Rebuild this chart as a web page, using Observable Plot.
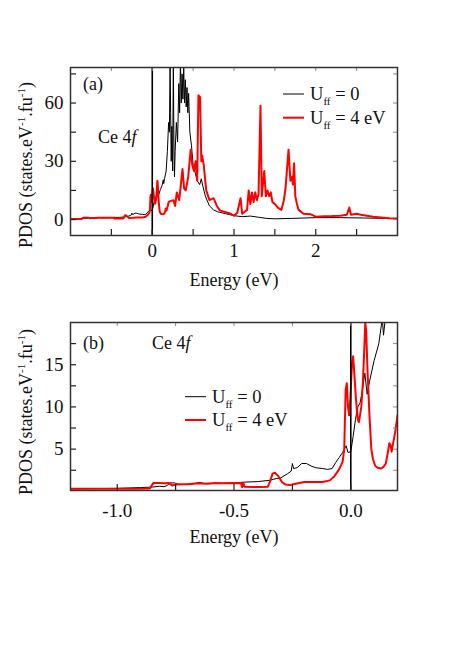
<!DOCTYPE html>
<html><head><meta charset="utf-8">
<script src="https://cdn.jsdelivr.net/npm/d3@7"></script>
<script src="https://cdn.jsdelivr.net/npm/@observablehq/plot@0.6"></script>
<style>
body{margin:0;background:#fff}
#c{width:467px;height:672px;background:#fff}
svg{display:block}
svg text{font-family:'Liberation Serif','Times New Roman',serif}
</style>
</head><body><div id="c"></div>
<script>
// U_ff = 0 (black)
const e0 = [-1.2,-1.0,-0.9,-0.85,-0.82,-0.8,-0.785,-0.775,-0.755,-0.74,-0.72,-0.68,-0.65,-0.62,-0.55,-0.5,-0.45,-0.4,-0.35,-0.32,-0.3,-0.27,-0.255,-0.25,-0.245,-0.23,-0.21,-0.19,-0.17,-0.15,-0.12,-0.1,-0.08,-0.065,-0.05,-0.035,-0.02,-0.012,0,0.01,0.02,0.03,0.04,0.05,0.06,0.07,0.08,0.1,0.12,0.135,0.14,0.15,0.17,0.185,0.2,0.21,0.218,0.225,0.232,0.24,0.25,0.258,0.265,0.272,0.28,0.295,0.31,0.325,0.335,0.345,0.355,0.365,0.375,0.385,0.395,0.405,0.415,0.425,0.435,0.445,0.46,0.48,0.5,0.52,0.55,0.58,0.6,0.62,0.65,0.7,0.75,0.8,0.9,1.0,1.1,1.2,1.3,1.4,1.5,1.7,2.0,2.3,2.6,3.0];
const p0 = [0.3,0.35,0.45,0.5,0.6,0.55,0.7,1.0,1.0,0.85,0.8,0.85,1.05,0.9,0.95,1.0,1.1,1.15,1.3,1.5,1.6,2.1,2.4,3.3,2.7,2.8,3.3,3.3,3.0,2.8,2.7,2.6,2.7,3.4,4.0,4.6,5.4,4.6,4.7,6.5,8.5,10,10.5,12,14,11.5,13,15.5,17.5,20.5,18.5,21,25,35,50,45,82,55,30,48,25,82,40,22,35,50,40,70,55,82,60,75,62,78,60,72,58,68,55,65,45,38,28,25,20,18,21,17,12,7,5,4,3,2,1.5,1.8,1.2,0.6,0.4,0.6,1.0,1.0,0.8,0.5];
// U_ff = 4 eV (red)
const e4 = [-1.2,-1.0,-0.9,-0.86,-0.845,-0.82,-0.8,-0.78,-0.765,-0.75,-0.72,-0.7,-0.65,-0.62,-0.58,-0.55,-0.5,-0.47,-0.465,-0.46,-0.455,-0.42,-0.38,-0.355,-0.345,-0.335,-0.325,-0.31,-0.295,-0.28,-0.26,-0.22,-0.2,-0.15,-0.12,-0.09,-0.07,-0.05,-0.035,-0.028,-0.022,-0.017,-0.012,-0.007,-0.002,0.005,0.01,0.015,0.022,0.03,0.035,0.045,0.052,0.058,0.062,0.066,0.072,0.08,0.088,0.095,0.105,0.115,0.13,0.14,0.15,0.158,0.165,0.17,0.175,0.18,0.19,0.2,0.22,0.26,0.28,0.3,0.33,0.37,0.39,0.41,0.44,0.47,0.49,0.51,0.53,0.55,0.565,0.585,0.6,0.61,0.63,0.66,0.7,0.75,0.79,0.83,0.88,0.92,0.96,1.0,1.04,1.08,1.1,1.13,1.16,1.18,1.2,1.22,1.24,1.26,1.28,1.3,1.324,1.34,1.37,1.39,1.41,1.43,1.45,1.47,1.5,1.54,1.58,1.61,1.63,1.667,1.69,1.71,1.72,1.735,1.75,1.77,1.79,1.85,1.94,2.0,2.1,2.2,2.3,2.38,2.41,2.43,2.5,2.55,2.7,2.9,3.0];
const p4 = [0.3,0.3,0.3,0.35,1.0,1.0,0.95,1.0,0.7,0.8,0.85,0.85,0.95,0.9,1.0,0.95,1.0,0.95,0.5,1.0,0.55,0.5,0.5,0.55,1.2,2.1,2.2,1.8,1.1,0.8,0.75,1.0,1.1,1.1,1.1,1.3,1.8,2.6,3.5,5.0,12,12.8,10,9,11,15,16,14,11,8.5,8.2,10,13,17,20,19,14,9,5,3.8,3.0,2.8,2.7,2.9,3.3,4.5,5.7,5.5,4.7,5.5,7,9,9.5,10,7,14,10,26,16,15,22,36,28,25,30,20,64,63,30,33,28,15,10,11,7,4.6,4,3.5,3,2,3.5,11,3,4,5,15,8,14,9,14,10,13,58.6,12,25,12,15,12,14,9,8,6,5,10,16,36,20,22,18,29,12,8,5,3,2.7,1.5,1.7,1.8,2.0,2.5,6.2,2.5,3,2.5,1.5,0.7,0.5];

const xTicksA = [-0.5,0,0.5,1,1.5,2,2.5];
const xLabelsA = [0,1,2];
const yTicksA = [0,15,30,45,60,75];
const yLabelsA = [0,30,60];
const xTicksB = [-1.0,-0.75,-0.5,-0.25,0];
const xLabelsB = [-1.0,-0.5,0.0];
const yTicksB = [2.5,5,7.5,10,12.5,15,17.5];
const yLabelsB = [5,10,15];

const black = e0.map((e,i)=>({e, p:p0[i]}));
const red = e4.map((e,i)=>({e, p:p4[i]}));

const FONT = "Liberation Serif";
const W = 467, ML = 70, MR = 70;

function panel({height, mt, mb, xdom, ydom, xt, xl, yt, yl, xfmt, xpad, labelDy}) {
  const pw = W - ML - MR, ph = height - mt - mb;
  return Plot.plot({
    width: W, height, marginLeft: ML, marginRight: MR, marginTop: mt, marginBottom: mb,
    style: {fontFamily: FONT, fontSize: "18px", color: "#111", background: "white", overflow: "visible"},
    x: {domain: xdom}, y: {domain: ydom},
    marks: [
      Plot.line(black, {x: "e", y: "p", stroke: "#000", strokeWidth: 1, clip: true}),
      Plot.line(red, {x: "e", y: "p", stroke: "#ff0000", strokeWidth: 2, clip: true}),
      Plot.ruleX([0], {stroke: "#000", strokeWidth: 1.6}),
      Plot.ruleX(xt, {stroke: "#222", strokeWidth: 1.2, insetTop: ph - 6}),
      Plot.ruleX(xt, {stroke: "#888", strokeWidth: 1, insetBottom: ph - 4}),
      Plot.ruleY(yt, {stroke: "#222", strokeWidth: 1.2, insetRight: pw - 6}),
      Plot.ruleY(yt, {stroke: "#888", strokeWidth: 1, insetLeft: pw - 4}),
      Plot.axisX(xl, {tickSize: 0, tickPadding: xpad, fontSize: 19, fontFamily: FONT, fill: "#111", tickFormat: xfmt, label: null}),
      Plot.axisY(yl, {tickSize: 0, tickPadding: 7, fontSize: 19, fontFamily: FONT, fill: "#111", label: null}),
      Plot.text(["Energy (eV)"], {frameAnchor: "bottom", dy: labelDy, fontSize: 18, fontFamily: FONT, fill: "#111"}),
      Plot.frame({stroke: "#333", strokeWidth: 1.5})
    ]
  });
}

const root = d3.select("#c");

const A = panel({height: 300, mt: 67, mb: 65, xdom: [-1, 3], ydom: [-8.2, 78.3],
  xt: xTicksA, xl: xLabelsA, yt: yTicksA, yl: yLabelsA, xfmt: d => String(d), xpad: 8, labelDy: 50});
const B = panel({height: 372, mt: 22, mb: 182, xdom: [-1.2, 0.2], ydom: [0.1, 20.0],
  xt: xTicksB, xl: xLabelsB, yt: yTicksB, yl: yLabelsB, xfmt: d => d.toFixed(1), xpad: 13, labelDy: 52});
root.node().appendChild(A);
root.node().appendChild(B);

function txt(sel, x, y, size) {
  return sel.append("text").attr("x", x).attr("y", y)
    .attr("font-family", FONT).attr("font-size", size).attr("fill", "#111")
    .attr("text-anchor", "start");
}
function ylabel(svg, cx, cy) {
  const t = d3.select(svg).append("text")
    .attr("transform", `translate(${cx},${cy}) rotate(-90)`)
    .attr("text-anchor", "middle").attr("font-family", FONT).attr("font-size", 18).attr("fill", "#111");
  t.append("tspan").text("PDOS (states.eV");
  t.append("tspan").attr("font-size", 11).attr("dy", -7).text("-1");
  t.append("tspan").attr("dy", 7).text(".fu");
  t.append("tspan").attr("font-size", 11).attr("dy", -7).text("-1");
  t.append("tspan").attr("dy", 7).text(")");
}
function utext(g, x, y, rest) {
  const t = txt(g, x, y, 18.5);
  t.append("tspan").text("U");
  t.append("tspan").attr("font-size", 11).attr("dy", 5).text("ff");
  t.append("tspan").attr("dy", -5).text(rest);
}
function legend(svg, x0, yb, yr) {
  const g = d3.select(svg).append("g");
  g.append("line").attr("x1", x0).attr("x2", x0 + 21).attr("y1", yb).attr("y2", yb).attr("stroke", "#000").attr("stroke-width", 1);
  g.append("line").attr("x1", x0).attr("x2", x0 + 21).attr("y1", yr).attr("y2", yr).attr("stroke", "#ff0000").attr("stroke-width", 2);
  utext(g, x0 + 27, yb + 6, " = 0");
  utext(g, x0 + 27, yr + 6, " = 4 eV");
}
function label(svg, x, y, s) {
  txt(d3.select(svg), x, y, 18).text(s);
}
function ce(svg, x, y) {
  const t = txt(d3.select(svg), x, y, 18);
  t.append("tspan").text("Ce 4");
  t.append("tspan").attr("font-style", "italic").text("f");
}

ylabel(A, 32, 165);
legend(A, 283, 94, 117.7);
label(A, 83, 90, "(a)");
ce(A, 98, 143);

ylabel(B, 32, 112);
legend(B, 185, 96.7, 120);
label(B, 83, 49, "(b)");
ce(B, 152, 49);
</script>
</body></html>
